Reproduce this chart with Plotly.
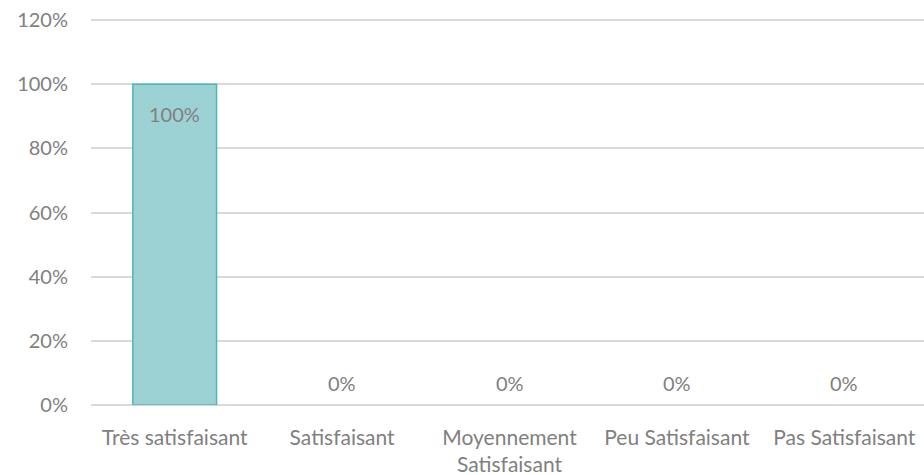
import plotly.graph_objects as go

# Données
categories = ["Très satisfaisant", "Satisfaisant", "Moyennement<br>Satisfaisant",
              "Peu Satisfaisant", "Pas Satisfaisant"]
valeurs = [1.00, 0.00, 0.00, 0.00, 0.00]
etiquettes = ["100%", "0%", "0%", "0%", "0%"]
graduations = [0, 0.2, 0.4, 0.6, 0.8, 1.0, 1.2]

gris = "#808080"
taille = 20

fig = go.Figure(go.Bar(
    x=categories,
    y=valeurs,
    width=0.5,
    marker=dict(color="#9dd2d5",
                line=dict(color="#4bb5b9", width=[1.5 if v > 0 else 0 for v in valeurs])),
    hovertemplate="%{x}: %{y:.0%}<extra></extra>",
))

# étiquettes de données : dans la barre en haut, ou au-dessus si 0
for cat, v, lab in zip(categories, valeurs, etiquettes):
    fig.add_annotation(
        x=cat, y=v, text=lab, showarrow=False,
        yanchor="top" if v > 0 else "bottom",
        yshift=-16 if v > 0 else 8,
        font=dict(color=gris, size=taille),
    )

fig.update_layout(
    width=928, height=475,
    margin=dict(l=91, r=0, t=17, b=70),
    paper_bgcolor="white", plot_bgcolor="white",
    font=dict(family="Lato, 'Open Sans', sans-serif", size=taille, color=gris),
    showlegend=False,
)
fig.update_xaxes(
    range=[-0.5, 4.5], showgrid=False, showline=False, ticks="",
    tickfont=dict(size=21, color=gris), tickangle=0, ticklabelstandoff=18,
    automargin=False, ticklabeloverflow="allow",
)
fig.update_yaxes(
    range=[0, 1.21], tickvals=graduations, tickformat=".0%",
    gridcolor="#d9d9d9", gridwidth=1.5, zeroline=True, zerolinecolor="#d9d9d9",
    zerolinewidth=1.5, showline=False, ticks="",
    tickfont=dict(size=taille, color=gris), ticklabelstandoff=22,
    automargin=False, ticklabeloverflow="allow",
)

# pas de marge de page autour de la figure, pas de barre d'outils
fig.write_html("out.html", config={"displayModeBar": False},
               post_script="document.body.style.margin='0';document.body.style.overflow='hidden';")
